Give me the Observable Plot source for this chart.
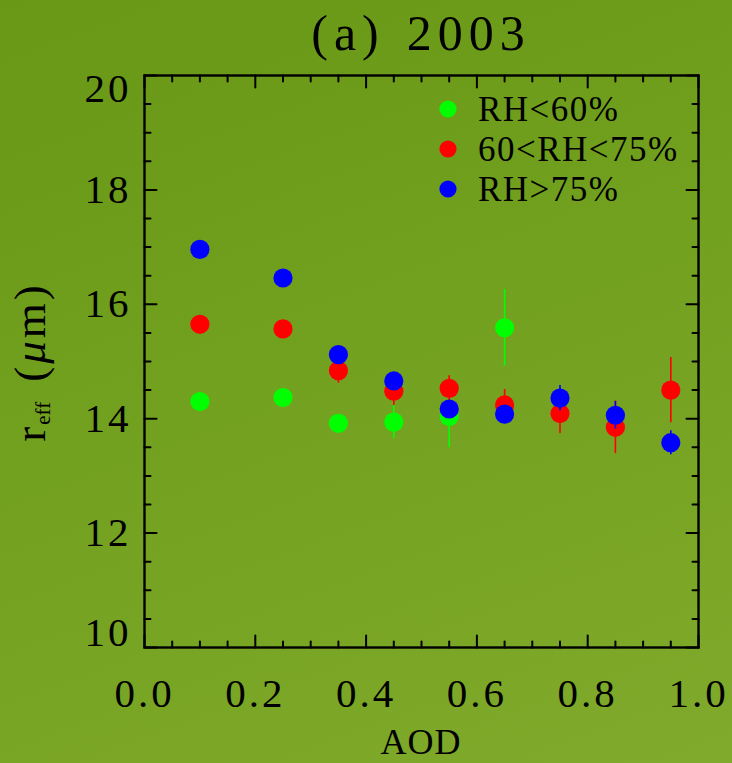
<!DOCTYPE html>
<html>
<head>
<meta charset="utf-8">
<script src="https://cdn.jsdelivr.net/npm/d3@7"></script>
<script src="https://cdn.jsdelivr.net/npm/@observablehq/plot@0.6"></script>
<style>
  html, body { margin: 0; padding: 0; }
  body { width: 732px; height: 763px; overflow: hidden;
         background: linear-gradient(160deg, #689816 0%, #72a01f 45%, #80aa2b 100%); }
  #chart { position: relative; width: 732px; height: 763px; }
</style>
</head>
<body>
<div id="chart"></div>
<script>
// ---- data ----
const aod = [0.1, 0.25, 0.35, 0.45, 0.55, 0.65, 0.75, 0.85, 0.95];

const seriesNames = ["RH<60%", "60<RH<75%", "RH>75%"];
const seriesColors = ["#00ff00", "#ff0000", "#0000ff"];

const lowRH      = [14.30, 14.37, 13.92, 13.94, 14.04, 15.59];
const lowRHErr   = [0.12, 0.12, 0.12, 0.29, 0.55, 0.67];
const midRH      = [15.65, 15.57, 14.84, 14.48, 14.53, 14.24, 14.09, 13.85, 14.50];
const midRHErr   = [0.10, 0.10, 0.22, 0.25, 0.22, 0.27, 0.35, 0.46, 0.57];
const highRH     = [16.96, 16.46, 15.12, 14.66, 14.17, 14.08, 14.36, 14.06, 13.58];
const highRHErr  = [0.10, 0.10, 0.10, 0.10, 0.10, 0.10, 0.22, 0.24, 0.21];

const xMajorTicks = [0.0, 0.2, 0.4, 0.6, 0.8, 1.0];
const xMinorTicks = [0.05, 0.1, 0.15, 0.25, 0.3, 0.35, 0.45, 0.5, 0.55, 0.65, 0.7, 0.75, 0.85, 0.9, 0.95];
const yMajorTicks = [10, 12, 14, 16, 18, 20];
const yMinorTicks = [10.5, 11, 11.5, 12.5, 13, 13.5, 14.5, 15, 15.5, 16.5, 17, 17.5, 18.5, 19, 19.5];

const titleText = "(a) 2003";
const xLabel = "AOD";

// ---- build table ----
const allValues = [lowRH, midRH, highRH];
const allErrs = [lowRHErr, midRHErr, highRHErr];
const rows = [];
allValues.forEach((vals, s) => {
  vals.forEach((v, i) => rows.push({series: s, x: aod[i], y: v, e: allErrs[s][i]}));
});

const lineShape = { draw(context, l) { context.moveTo(0, 0); context.lineTo(0, -l); } };
const FONT = "'Liberation Serif', 'DejaVu Serif', serif";

function tickMarks(values, anchor, length) {
  const rot = {bottom: 0, top: 180, left: 90, right: -90}[anchor];
  const ch = (anchor === "bottom" || anchor === "top") ? {x: d => d} : {y: d => d};
  return Plot.vector(values, {...ch, frameAnchor: anchor, rotate: rot, length, anchor: "start",
    shape: lineShape, stroke: "black", strokeWidth: 2});
}

const marks = [];
seriesNames.forEach((name, s) => {
  const d = rows.filter(r => r.series === s);
  marks.push(Plot.ruleX(d, {x: "x", y1: r => r.y - r.e, y2: r => r.y + r.e, stroke: seriesColors[s], strokeWidth: 1.6}));
  marks.push(Plot.dot(d, {x: "x", y: "y", r: 9.6, fill: seriesColors[s], stroke: "none"}));
});

const tickLabelOpts = {tickSize: 0, fontSize: 41, label: null, fill: "black"};
const yFmt = d => String(d);

const plot = Plot.plot({
  width: 732, height: 763,
  marginLeft: 144, marginRight: 34, marginTop: 75, marginBottom: 116,
  x: {domain: [0, 1]},
  y: {domain: [10, 20]},
  style: {background: "transparent", fontFamily: FONT, color: "black", overflow: "visible"},
  marks: [
    ...marks,
    tickMarks(xMinorTicks, "bottom", 6), tickMarks(xMajorTicks, "bottom", 12),
    tickMarks(xMinorTicks, "top", 6), tickMarks(xMajorTicks, "top", 12),
    tickMarks(yMinorTicks, "left", 6), tickMarks(yMajorTicks, "left", 12),
    tickMarks(yMinorTicks, "right", 6), tickMarks(yMajorTicks, "right", 12),
    Plot.frame({stroke: "black", strokeWidth: 2.4}),
    Plot.axisX(xMajorTicks, {...tickLabelOpts, anchor: "bottom", tickPadding: 30, tickFormat: d => d.toFixed(1)}),
    Plot.axisY(yMajorTicks.filter(v => v > 10 && v < 20), {...tickLabelOpts, anchor: "left", tickPadding: 13, tickFormat: yFmt}),
    Plot.axisY(yMajorTicks.filter(v => v === 20), {...tickLabelOpts, anchor: "left", tickPadding: 13, dy: 13, tickFormat: yFmt}),
    Plot.axisY(yMajorTicks.filter(v => v === 10), {...tickLabelOpts, anchor: "left", tickPadding: 13, dy: -15, tickFormat: yFmt})
  ]
});

document.getElementById("chart").appendChild(plot);
const svg = d3.select(plot);
svg.selectAll("g[aria-label='x-axis tick label'] text, g[aria-label='y-axis tick label'] text")
  .attr("letter-spacing", 3);

// title
const tt = svg.append("text").attr("x", 421).attr("y", 50).attr("text-anchor", "middle")
  .attr("font-family", FONT).attr("font-size", 50).attr("letter-spacing", 6)
  .attr("xml:space", "preserve").style("white-space", "pre");
tt.append("tspan").text(titleText.split(" ")[0]);
tt.append("tspan").attr("dx", 22).text(titleText.split(" ")[1]);

// x label
svg.append("text").attr("x", 421).attr("y", 754).attr("text-anchor", "middle")
  .attr("font-family", FONT).attr("font-size", 36).attr("letter-spacing", 1).text(xLabel);

// y label r_eff (μm)
const yl = svg.append("text").attr("transform", "translate(45,362) rotate(-90)")
  .attr("text-anchor", "middle").attr("font-family", FONT).attr("font-size", 45);
yl.append("tspan").text("r");
yl.append("tspan").attr("font-size", 21).attr("dy", 5).attr("dx", 2).text("eff");
yl.append("tspan").attr("dy", -5).attr("dx", 20).attr("letter-spacing", 3).text("(");
yl.append("tspan").attr("font-style", "italic").attr("letter-spacing", 3).text("μ");
yl.append("tspan").attr("letter-spacing", 3).text("m)");

// legend
const legendY = [109, 149, 189];
const lg = svg.append("g").attr("text-anchor", "start");
seriesNames.forEach((name, s) => {
  lg.append("circle").attr("cx", 448).attr("cy", legendY[s]).attr("r", 8.6).attr("fill", seriesColors[s]);
  lg.append("text").attr("x", 478).attr("y", legendY[s] + 12).attr("font-family", FONT)
    .attr("text-anchor", "start").attr("font-size", 35).attr("letter-spacing", 1.5).text(name);
});
</script>
</body>
</html>
